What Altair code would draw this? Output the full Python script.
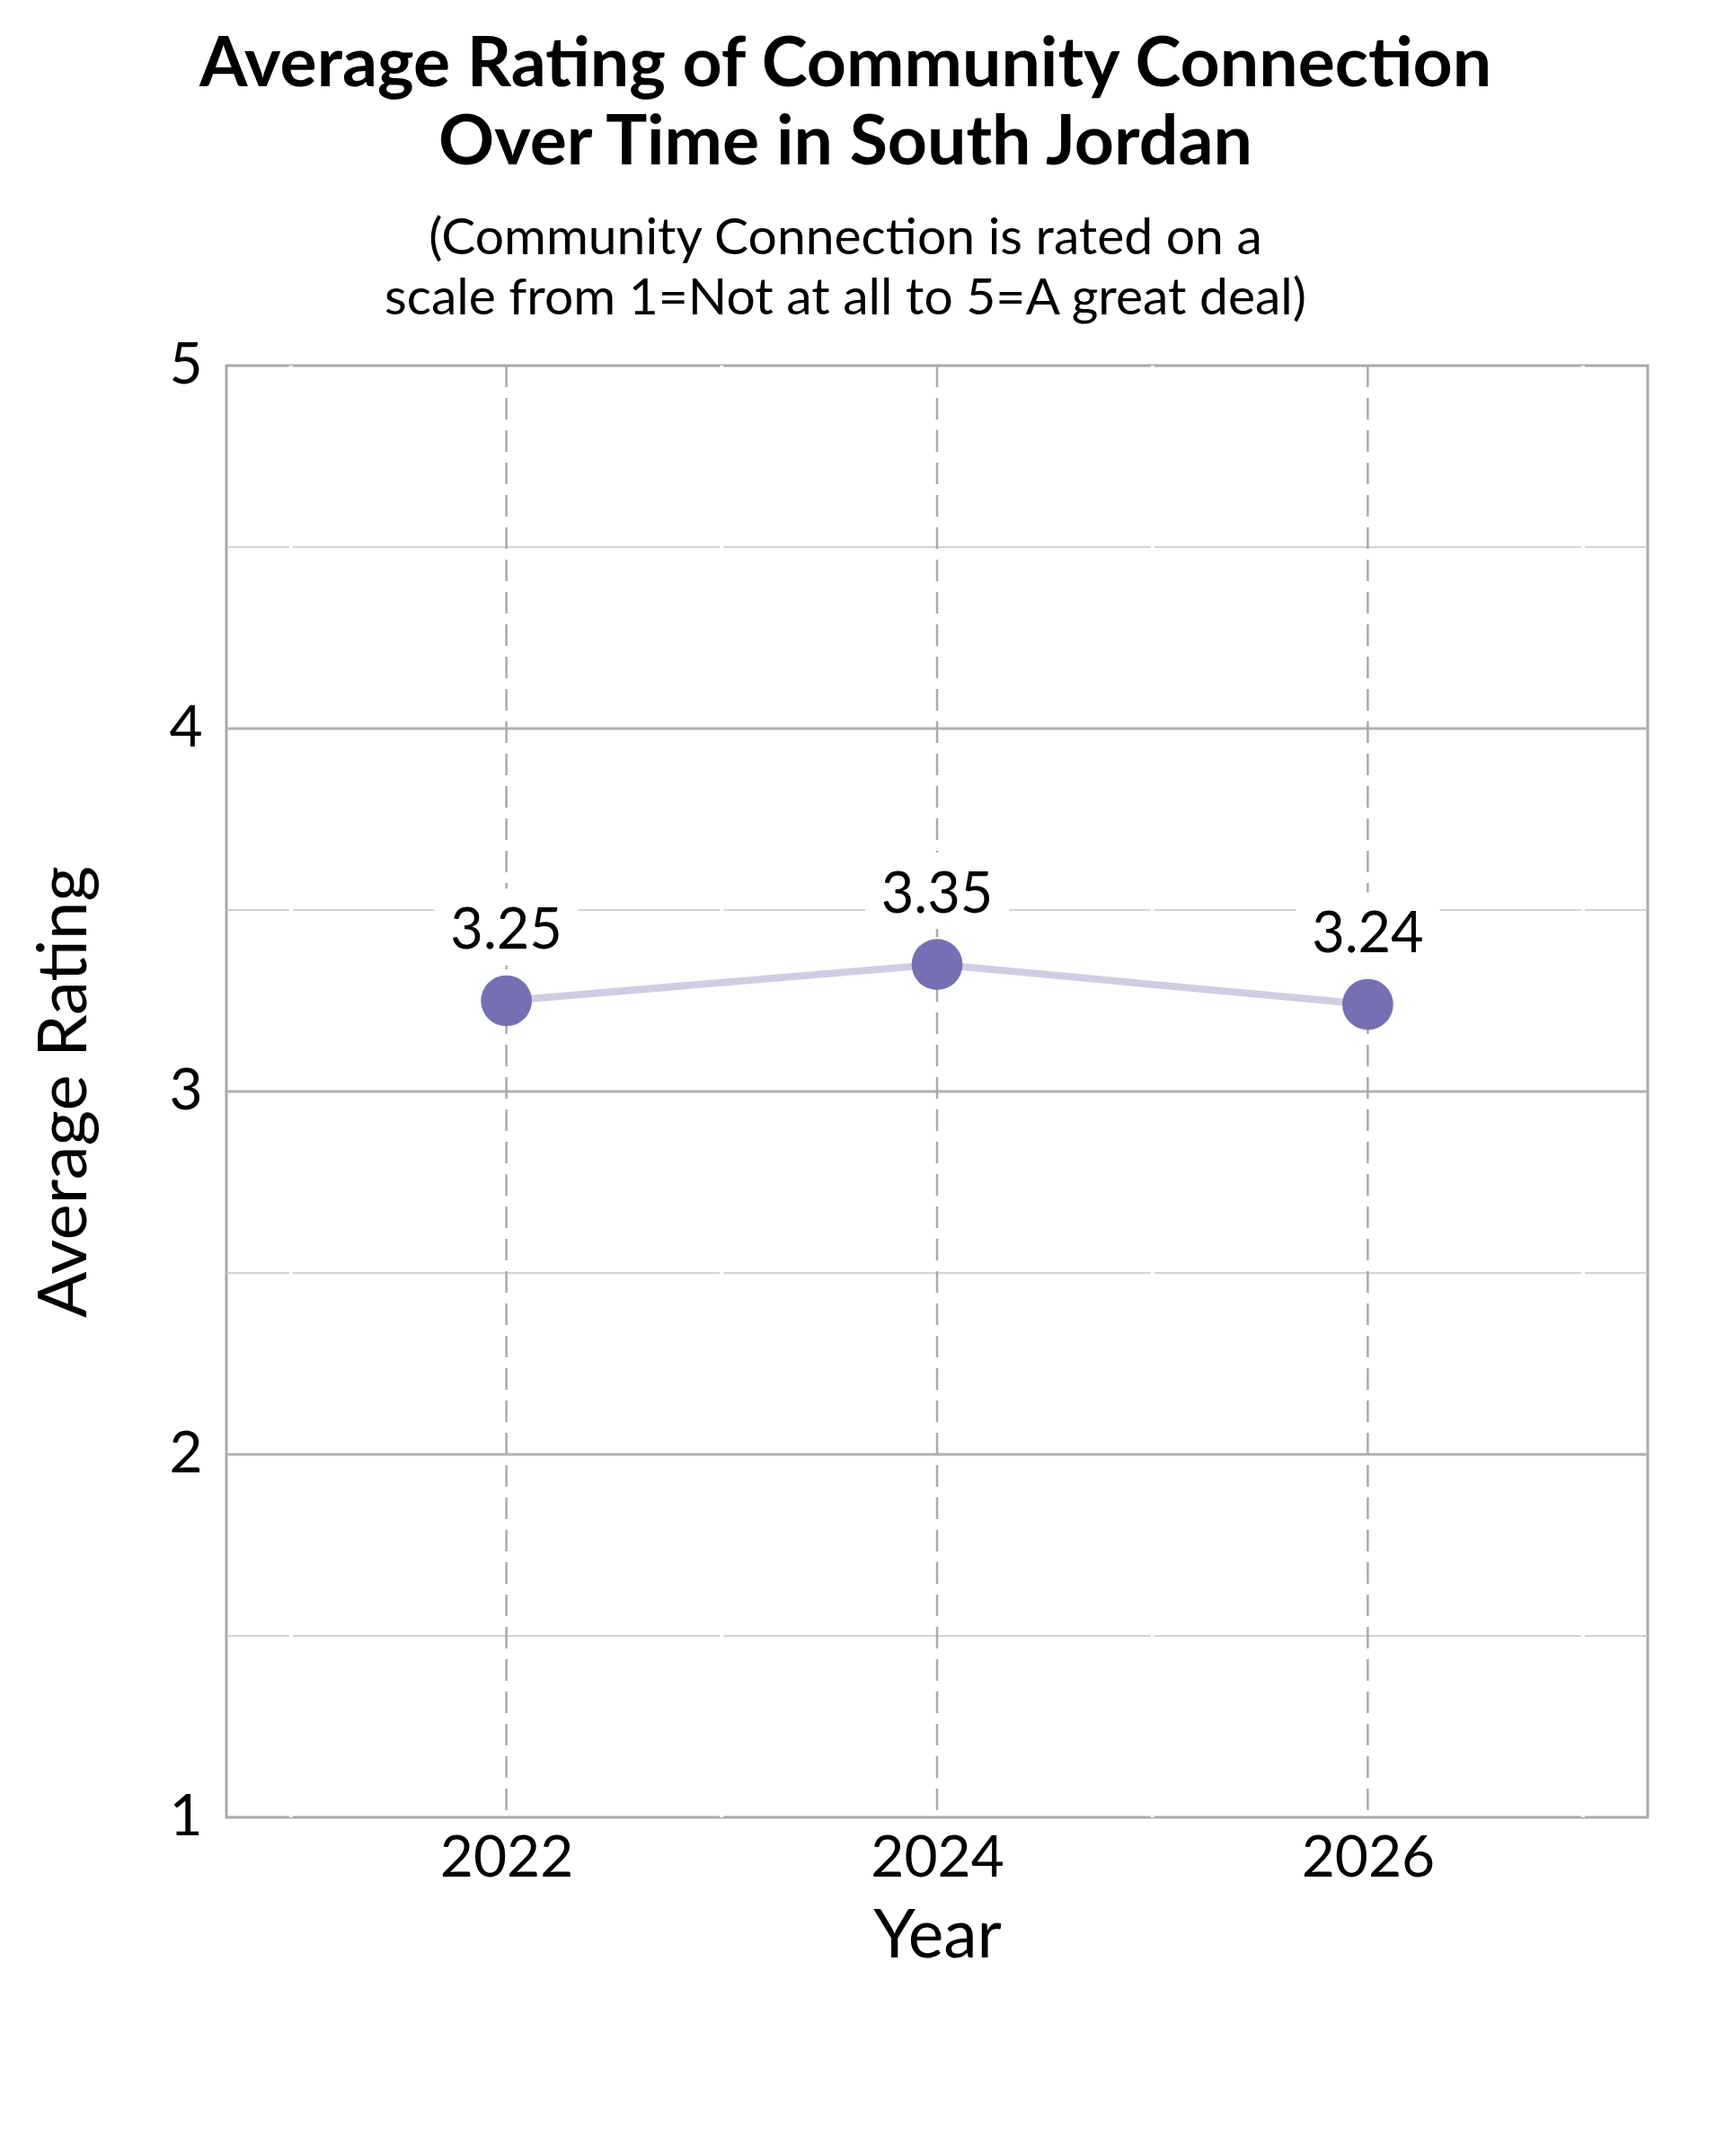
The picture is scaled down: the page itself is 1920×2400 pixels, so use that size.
import altair as alt
import pandas as pd

# ---- data ----
years = [2022, 2024, 2026]
ratings = [3.25, 3.35, 3.24]
labels = ["3.25", "3.35", "3.24"]
y_ticks = [1, 2, 3, 4, 5]
y_minor = [1.5, 2.5, 3.5, 4.5]
y_major_inner = [2, 3, 4]
x_minor = [2021, 2023, 2025, 2027]
x_major = [2022, 2024, 2026]

FONT = "Lato"
POINT = "#7570b3"
LINE = "#cfcce4"
GRID = "#b0b0b0"

df = pd.DataFrame({"Year": years, "Rating": ratings, "Label": labels})

xs = alt.Scale(domain=[2020.7, 2027.3], nice=False, zero=False)
ys = alt.Scale(domain=[1, 5], nice=False, zero=False)

x_axis = alt.Axis(values=x_major, format="d", title="Year", grid=False, ticks=False,
                  domain=False, labelFontSize=64, labelFont=FONT, labelColor="black",
                  labelPadding=14, labelFlush=False, titleFontSize=75, titleFont=FONT,
                  titleFontWeight="normal", titlePadding=18, titleColor="black")
y_axis = alt.Axis(values=y_ticks, format="d", title="Average Rating", grid=False, ticks=False,
                  domain=False, labelFontSize=64, labelFont=FONT, labelColor="black",
                  labelPadding=27, labelFlush=False, titleFontSize=76, titleFont=FONT,
                  titleFontWeight="normal", titlePadding=76, titleColor="black")

X = lambda f: alt.X(f, scale=xs, axis=x_axis)
Y = lambda f: alt.Y(f, scale=ys, axis=y_axis)

minor_h = alt.Chart(pd.DataFrame({"y": y_minor})).mark_rule(
    color="#c4c4c4", strokeWidth=1.5).encode(y=Y("y:Q"))
white_v = alt.Chart(pd.DataFrame({"x": x_minor})).mark_rule(
    color="white", strokeWidth=4).encode(x=X("x:Q"))
major_h = alt.Chart(pd.DataFrame({"y": y_major_inner})).mark_rule(
    color=GRID, strokeWidth=3).encode(y=Y("y:Q"))
dashed_v = alt.Chart(pd.DataFrame({"x": x_major})).mark_rule(
    color="#aaaaaa", strokeWidth=2.5, strokeDash=[24, 12]).encode(x=X("x:Q"))

base = alt.Chart(df).encode(x=X("Year:Q"), y=Y("Rating:Q"))
line = base.mark_line(color=LINE, strokeWidth=8)
points = base.mark_circle(color=POINT, size=3217, opacity=1)
boxes = base.mark_point(shape="M-1,-0.533H1V0.533H-1Z", filled=True, color="white",
                        strokeWidth=0, size=25600, opacity=1, yOffset=-82)
texts = base.mark_text(font=FONT, fontSize=63, baseline="alphabetic", dy=-58,
                       color="black").encode(text="Label:N")

chart = alt.layer(minor_h, white_v, major_h, dashed_v, line, points, boxes, texts).properties(
    width=1582, height=1616,
    autosize=alt.AutoSizeParams(type="none"),
    padding={"left": 244, "top": 399, "right": 78, "bottom": 369},
    background="white",
    title=alt.TitleParams(
        text=["Average Rating of Community Connection", "Over Time in South Jordan"],
        subtitle=["(Community Connection is rated on a", "scale from 1=Not at all to 5=A great deal)"],
        font=FONT, fontSize=77, fontWeight="bold", lineHeight=87, color="black",
        subtitleFont=FONT, subtitleFontSize=57, subtitleLineHeight=67, subtitleColor="black",
        subtitlePadding=39, anchor="middle", dx=-102, offset=13),
).configure_view(stroke="#aaaaaa", strokeWidth=3)

chart.save("out.html", embed_options={"renderer": "svg", "actions": False})
